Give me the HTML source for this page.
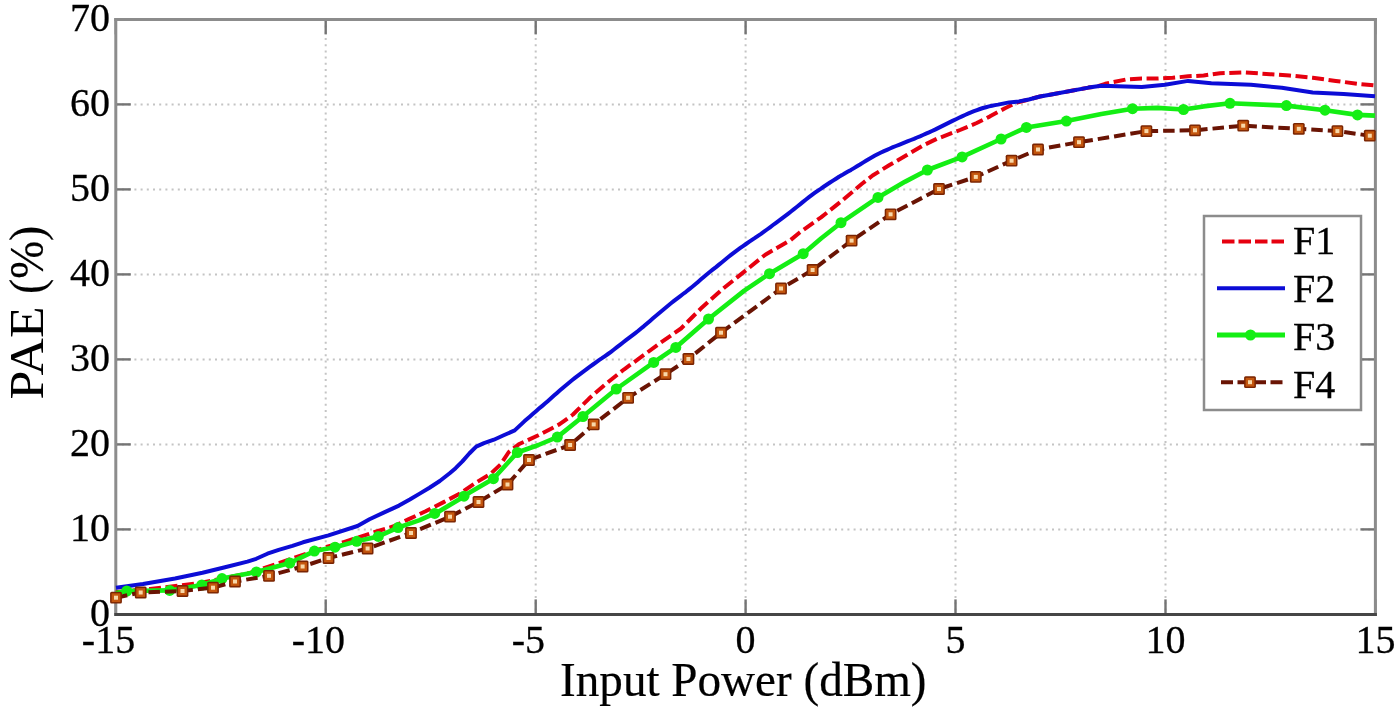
<!DOCTYPE html>
<html><head><meta charset="utf-8"><style>
html,body{margin:0;padding:0;background:#fff;width:1400px;height:712px;overflow:hidden}
svg{display:block;filter:blur(0.35px)}
text{font-family:"Liberation Serif",serif;fill:#000;stroke:#000;stroke-width:0.3px}
</style></head><body>
<svg width="1400" height="712" viewBox="0 0 1400 712">
<rect width="1400" height="712" fill="#fff"/>

<g stroke="#c4c4c4" stroke-width="2" stroke-dasharray="2 4.2" fill="none"><line x1="325.7" y1="19.4" x2="325.7" y2="614.4"/><line x1="535.7" y1="19.4" x2="535.7" y2="614.4"/><line x1="745.6" y1="19.4" x2="745.6" y2="614.4"/><line x1="955.5" y1="19.4" x2="955.5" y2="614.4"/><line x1="1165.5" y1="19.4" x2="1165.5" y2="614.4"/><line x1="115.8" y1="529.4" x2="1375.4" y2="529.4"/><line x1="115.8" y1="444.4" x2="1375.4" y2="444.4"/><line x1="115.8" y1="359.4" x2="1375.4" y2="359.4"/><line x1="115.8" y1="274.4" x2="1375.4" y2="274.4"/><line x1="115.8" y1="189.4" x2="1375.4" y2="189.4"/><line x1="115.8" y1="104.4" x2="1375.4" y2="104.4"/></g>
<g stroke="#747474" stroke-width="2.4" fill="none"><line x1="115.8" y1="614.4" x2="115.8" y2="599.4"/><line x1="115.8" y1="19.4" x2="115.8" y2="34.4"/><line x1="325.7" y1="614.4" x2="325.7" y2="599.4"/><line x1="325.7" y1="19.4" x2="325.7" y2="34.4"/><line x1="535.7" y1="614.4" x2="535.7" y2="599.4"/><line x1="535.7" y1="19.4" x2="535.7" y2="34.4"/><line x1="745.6" y1="614.4" x2="745.6" y2="599.4"/><line x1="745.6" y1="19.4" x2="745.6" y2="34.4"/><line x1="955.5" y1="614.4" x2="955.5" y2="599.4"/><line x1="955.5" y1="19.4" x2="955.5" y2="34.4"/><line x1="1165.5" y1="614.4" x2="1165.5" y2="599.4"/><line x1="1165.5" y1="19.4" x2="1165.5" y2="34.4"/><line x1="1375.4" y1="614.4" x2="1375.4" y2="599.4"/><line x1="1375.4" y1="19.4" x2="1375.4" y2="34.4"/><line x1="115.8" y1="614.4" x2="130.8" y2="614.4"/><line x1="1375.4" y1="614.4" x2="1360.4" y2="614.4"/><line x1="115.8" y1="529.4" x2="130.8" y2="529.4"/><line x1="1375.4" y1="529.4" x2="1360.4" y2="529.4"/><line x1="115.8" y1="444.4" x2="130.8" y2="444.4"/><line x1="1375.4" y1="444.4" x2="1360.4" y2="444.4"/><line x1="115.8" y1="359.4" x2="130.8" y2="359.4"/><line x1="1375.4" y1="359.4" x2="1360.4" y2="359.4"/><line x1="115.8" y1="274.4" x2="130.8" y2="274.4"/><line x1="1375.4" y1="274.4" x2="1360.4" y2="274.4"/><line x1="115.8" y1="189.4" x2="130.8" y2="189.4"/><line x1="1375.4" y1="189.4" x2="1360.4" y2="189.4"/><line x1="115.8" y1="104.4" x2="130.8" y2="104.4"/><line x1="1375.4" y1="104.4" x2="1360.4" y2="104.4"/><line x1="115.8" y1="19.4" x2="130.8" y2="19.4"/><line x1="1375.4" y1="19.4" x2="1360.4" y2="19.4"/></g>
<g fill="none" stroke-width="3" stroke-linecap="square"><line x1="115.8" y1="19.4" x2="1375.4" y2="19.4" stroke="#8c8c8c"/><line x1="115.8" y1="19.4" x2="115.8" y2="614.4" stroke="#8c8c8c"/><line x1="1375.4" y1="19.4" x2="1375.4" y2="614.4" stroke="#8c8c8c"/><line x1="115.8" y1="614.4" x2="1375.4" y2="614.4" stroke="#464646"/></g>
<polyline points="116.0,592.0 150.0,589.0 200.0,583.0 250.0,573.0 306.5,553.6 327.2,546.7 343.0,542.3 361.6,536.4 376.4,531.5 393.0,526.5 408.8,519.1 425.6,511.3 443.2,502.4 460.0,493.6 475.7,482.8 490.6,473.8 500.4,464.6 508.8,452.0 518.7,444.3 538.4,435.2 559.3,424.4 573.0,414.5 588.8,398.8 604.5,385.0 624.2,369.3 645.8,353.6 660.0,343.2 681.0,328.5 702.0,307.4 723.2,288.5 744.3,271.6 765.3,254.7 790.6,240.0 800.0,232.2 821.0,217.4 842.1,200.6 861.7,184.0 872.6,175.5 889.5,165.0 906.4,155.3 922.8,145.6 936.7,138.9 960.0,130.0 976.7,123.0 989.6,116.6 1005.0,108.2 1012.7,104.5 1019.0,102.0 1028.8,99.5 1040.0,96.5 1050.0,94.7 1088.5,87.6 1098.0,86.2 1105.2,83.8 1126.3,79.4 1141.8,78.6 1157.2,78.6 1172.7,77.8 1188.1,76.3 1203.6,75.5 1220.0,73.2 1243.2,72.4 1266.3,73.9 1289.5,75.5 1312.7,77.8 1335.8,80.9 1359.0,84.0 1375.0,85.5" fill="none" stroke="#e6000f" stroke-width="4" stroke-dasharray="12 4.6" stroke-linejoin="round"/>
<polyline points="116.0,587.7 143.0,584.0 175.0,578.5 202.5,572.8 225.0,567.2 247.4,561.6 256.2,558.8 267.4,553.7 278.7,549.8 292.4,545.8 303.0,542.3 328.5,535.4 357.5,526.0 369.5,519.3 384.2,512.4 399.0,505.6 409.8,499.5 419.7,493.6 429.5,487.7 439.8,481.0 449.7,473.2 455.6,468.2 462.4,461.4 469.3,453.5 476.2,446.6 484.0,443.2 493.9,439.7 503.7,435.3 514.7,430.4 524.6,421.1 530.0,416.4 533.0,413.8 536.0,411.2 539.0,408.6 542.0,406.1 545.0,403.5 548.0,400.9 551.0,398.2 554.0,395.6 557.0,392.9 560.0,390.3 563.0,387.7 566.0,385.2 569.0,382.7 572.0,380.3 575.0,377.9 578.0,375.6 581.0,373.3 584.0,371.1 587.0,368.8 590.0,366.6 593.0,364.5 596.0,362.3 599.0,360.2 602.0,358.2 605.0,356.1 608.0,354.0 611.0,351.8 614.0,349.5 617.0,347.2 620.0,344.9 623.0,342.5 626.0,340.2 629.0,337.9 632.0,335.6 635.0,333.3 638.0,331.0 641.0,328.5 644.0,326.1 647.0,323.5 650.0,320.9 653.0,318.3 656.0,315.8 659.0,313.2 662.0,310.7 665.0,308.2 668.0,305.7 671.0,303.3 674.0,300.9 677.0,298.6 680.0,296.3 683.0,294.0 686.0,291.8 689.0,289.4 692.0,287.0 695.0,284.5 698.0,281.9 701.0,279.3 704.0,276.7 707.0,274.2 710.0,271.8 713.0,269.4 716.0,267.1 719.0,264.6 722.0,262.2 725.0,259.7 728.0,257.3 731.0,254.9 734.0,252.6 737.0,250.4 740.0,248.2 743.0,246.1 746.0,244.0 749.0,241.9 752.0,239.9 755.0,237.9 758.0,235.8 761.0,233.8 764.0,231.7 767.0,229.5 770.0,227.3 773.0,225.0 776.0,222.8 779.0,220.6 782.0,218.3 785.0,216.1 788.0,213.8 791.0,211.5 794.0,209.2 797.0,206.8 800.0,204.4 803.0,201.9 806.0,199.5 809.0,197.2 812.0,194.9 815.0,192.7 818.0,190.6 821.0,188.6 824.0,186.5 827.0,184.5 830.0,182.5 833.0,180.6 836.0,178.7 839.0,176.8 842.0,175.1 845.0,173.3 848.0,171.6 851.0,169.9 854.0,168.1 857.0,166.3 860.0,164.5 863.0,162.6 866.0,160.8 869.0,159.0 872.0,157.3 875.0,155.6 878.0,154.0 881.0,152.5 884.0,151.1 887.0,149.8 890.0,148.5 893.0,147.2 896.0,146.0 899.0,144.8 902.0,143.6 905.0,142.4 908.0,141.2 911.0,140.0 914.0,138.8 917.0,137.5 920.0,136.3 923.0,135.0 926.0,133.7 929.0,132.4 932.0,131.0 935.0,129.6 938.0,128.1 941.0,126.6 944.0,125.1 947.0,123.6 950.0,122.1 953.0,120.6 956.0,119.2 959.0,117.8 962.0,116.4 965.0,115.0 968.0,113.7 971.0,112.4 974.0,111.2 977.0,110.1 980.0,109.0 983.0,108.0 986.0,107.2 989.0,106.4 992.0,105.7 995.0,105.1 998.0,104.6 1009.1,102.4 1019.0,101.4 1028.8,99.5 1040.0,96.5 1050.0,94.7 1088.5,87.6 1101.4,85.7 1141.8,87.1 1165.0,84.8 1188.1,80.9 1211.3,83.2 1250.9,84.7 1281.8,87.8 1312.7,92.5 1343.6,94.0 1375.0,96.3" fill="none" stroke="#0c0cd6" stroke-width="4" stroke-linejoin="round"/>
<polyline points="116.0,593.0 126.8,591.0 169.7,590.4 201.8,585.0 222.0,578.6 256.4,572.0 289.8,563.0 314.4,551.1 335.0,547.2 356.7,541.3 378.3,536.4 398.0,527.6 419.7,520.1 439.3,511.3 459.0,499.5 469.3,492.8 493.4,478.7 508.8,461.8 517.3,452.5 538.4,445.0 557.3,437.1 582.9,416.5 616.3,389.0 653.7,362.4 675.8,347.4 708.5,319.0 744.3,290.6 769.5,273.7 803.2,253.7 821.0,238.5 841.0,222.7 878.0,197.4 905.3,181.6 927.4,170.0 962.1,156.9 1001.1,139.0 1026.4,127.4 1066.4,121.1 1101.4,114.0 1132.5,108.7 1157.2,107.9 1183.5,109.5 1203.6,106.4 1230.0,103.3 1286.4,105.6 1325.0,110.2 1357.5,114.9 1375.0,115.6" fill="none" stroke="#14ee14" stroke-width="4.6" stroke-linejoin="round"/>
<g fill="#14ee14"><circle cx="126.8" cy="591.0" r="5.5"/><circle cx="169.7" cy="590.4" r="5.5"/><circle cx="201.8" cy="585.0" r="5.5"/><circle cx="222.0" cy="578.6" r="5.5"/><circle cx="256.4" cy="572.0" r="5.5"/><circle cx="289.8" cy="563.0" r="5.5"/><circle cx="314.4" cy="551.1" r="5.5"/><circle cx="335.0" cy="547.2" r="5.5"/><circle cx="356.7" cy="541.3" r="5.5"/><circle cx="378.3" cy="536.4" r="5.5"/><circle cx="398.0" cy="527.6" r="5.5"/><circle cx="434.7" cy="513.4" r="5.5"/><circle cx="464.0" cy="496.2" r="5.5"/><circle cx="493.4" cy="478.7" r="5.5"/><circle cx="517.3" cy="452.5" r="5.5"/><circle cx="557.3" cy="437.1" r="5.5"/><circle cx="582.9" cy="416.5" r="5.5"/><circle cx="616.3" cy="389.0" r="5.5"/><circle cx="653.7" cy="362.4" r="5.5"/><circle cx="675.8" cy="347.4" r="5.5"/><circle cx="708.5" cy="319.0" r="5.5"/><circle cx="769.5" cy="273.7" r="5.5"/><circle cx="803.2" cy="253.7" r="5.5"/><circle cx="841.0" cy="222.7" r="5.5"/><circle cx="878.0" cy="197.4" r="5.5"/><circle cx="927.4" cy="170.0" r="5.5"/><circle cx="962.1" cy="156.9" r="5.5"/><circle cx="1001.1" cy="139.0" r="5.5"/><circle cx="1026.4" cy="127.4" r="5.5"/><circle cx="1066.4" cy="121.1" r="5.5"/><circle cx="1132.5" cy="108.7" r="5.5"/><circle cx="1183.5" cy="109.5" r="5.5"/><circle cx="1230.0" cy="103.3" r="5.5"/><circle cx="1286.4" cy="105.6" r="5.5"/><circle cx="1325.0" cy="110.2" r="5.5"/><circle cx="1357.5" cy="114.9" r="5.5"/></g>
<polyline points="116.0,597.7 140.7,592.5 182.5,591.0 213.0,587.7 235.0,581.5 269.0,575.8 302.6,566.5 328.5,558.0 367.6,548.5 411.0,533.0 450.0,516.7 478.5,502.0 507.5,484.5 529.0,460.0 570.1,445.0 593.7,424.4 628.1,397.8 665.5,374.2 688.4,359.0 721.0,332.7 781.0,288.5 812.6,270.0 851.6,240.6 890.6,214.3 939.0,189.0 975.8,176.9 1011.6,160.7 1038.0,149.5 1079.0,142.2 1146.4,131.1 1195.0,130.3 1243.2,125.7 1298.8,128.8 1337.4,131.1 1369.8,135.7 1375.0,136.0" fill="none" stroke="#6a1404" stroke-width="4" stroke-dasharray="11.5 5" stroke-linejoin="round"/>
<rect x="110.1" y="591.8" width="11.8" height="11.8" rx="1.5" fill="#7a2402"/><rect x="111.6" y="593.3" width="8.8" height="8.8" fill="#c4560e"/><rect x="114.0" y="595.7" width="4" height="4" fill="#f8d8a8"/><rect x="134.8" y="586.6" width="11.8" height="11.8" rx="1.5" fill="#7a2402"/><rect x="136.3" y="588.1" width="8.8" height="8.8" fill="#c4560e"/><rect x="138.7" y="590.5" width="4" height="4" fill="#f8d8a8"/><rect x="176.6" y="585.1" width="11.8" height="11.8" rx="1.5" fill="#7a2402"/><rect x="178.1" y="586.6" width="8.8" height="8.8" fill="#c4560e"/><rect x="180.5" y="589.0" width="4" height="4" fill="#f8d8a8"/><rect x="207.1" y="581.8" width="11.8" height="11.8" rx="1.5" fill="#7a2402"/><rect x="208.6" y="583.3" width="8.8" height="8.8" fill="#c4560e"/><rect x="211.0" y="585.7" width="4" height="4" fill="#f8d8a8"/><rect x="229.1" y="575.6" width="11.8" height="11.8" rx="1.5" fill="#7a2402"/><rect x="230.6" y="577.1" width="8.8" height="8.8" fill="#c4560e"/><rect x="233.0" y="579.5" width="4" height="4" fill="#f8d8a8"/><rect x="263.1" y="569.9" width="11.8" height="11.8" rx="1.5" fill="#7a2402"/><rect x="264.6" y="571.4" width="8.8" height="8.8" fill="#c4560e"/><rect x="267.0" y="573.8" width="4" height="4" fill="#f8d8a8"/><rect x="296.7" y="560.6" width="11.8" height="11.8" rx="1.5" fill="#7a2402"/><rect x="298.2" y="562.1" width="8.8" height="8.8" fill="#c4560e"/><rect x="300.6" y="564.5" width="4" height="4" fill="#f8d8a8"/><rect x="322.6" y="552.1" width="11.8" height="11.8" rx="1.5" fill="#7a2402"/><rect x="324.1" y="553.6" width="8.8" height="8.8" fill="#c4560e"/><rect x="326.5" y="556.0" width="4" height="4" fill="#f8d8a8"/><rect x="361.7" y="542.6" width="11.8" height="11.8" rx="1.5" fill="#7a2402"/><rect x="363.2" y="544.1" width="8.8" height="8.8" fill="#c4560e"/><rect x="365.6" y="546.5" width="4" height="4" fill="#f8d8a8"/><rect x="405.1" y="527.1" width="11.8" height="11.8" rx="1.5" fill="#7a2402"/><rect x="406.6" y="528.6" width="8.8" height="8.8" fill="#c4560e"/><rect x="409.0" y="531.0" width="4" height="4" fill="#f8d8a8"/><rect x="444.1" y="510.8" width="11.8" height="11.8" rx="1.5" fill="#7a2402"/><rect x="445.6" y="512.3" width="8.8" height="8.8" fill="#c4560e"/><rect x="448.0" y="514.7" width="4" height="4" fill="#f8d8a8"/><rect x="472.6" y="496.1" width="11.8" height="11.8" rx="1.5" fill="#7a2402"/><rect x="474.1" y="497.6" width="8.8" height="8.8" fill="#c4560e"/><rect x="476.5" y="500.0" width="4" height="4" fill="#f8d8a8"/><rect x="501.6" y="478.6" width="11.8" height="11.8" rx="1.5" fill="#7a2402"/><rect x="503.1" y="480.1" width="8.8" height="8.8" fill="#c4560e"/><rect x="505.5" y="482.5" width="4" height="4" fill="#f8d8a8"/><rect x="523.1" y="454.1" width="11.8" height="11.8" rx="1.5" fill="#7a2402"/><rect x="524.6" y="455.6" width="8.8" height="8.8" fill="#c4560e"/><rect x="527.0" y="458.0" width="4" height="4" fill="#f8d8a8"/><rect x="564.2" y="439.1" width="11.8" height="11.8" rx="1.5" fill="#7a2402"/><rect x="565.7" y="440.6" width="8.8" height="8.8" fill="#c4560e"/><rect x="568.1" y="443.0" width="4" height="4" fill="#f8d8a8"/><rect x="587.8" y="418.5" width="11.8" height="11.8" rx="1.5" fill="#7a2402"/><rect x="589.3" y="420.0" width="8.8" height="8.8" fill="#c4560e"/><rect x="591.7" y="422.4" width="4" height="4" fill="#f8d8a8"/><rect x="622.2" y="391.9" width="11.8" height="11.8" rx="1.5" fill="#7a2402"/><rect x="623.7" y="393.4" width="8.8" height="8.8" fill="#c4560e"/><rect x="626.1" y="395.8" width="4" height="4" fill="#f8d8a8"/><rect x="659.6" y="368.3" width="11.8" height="11.8" rx="1.5" fill="#7a2402"/><rect x="661.1" y="369.8" width="8.8" height="8.8" fill="#c4560e"/><rect x="663.5" y="372.2" width="4" height="4" fill="#f8d8a8"/><rect x="682.5" y="353.1" width="11.8" height="11.8" rx="1.5" fill="#7a2402"/><rect x="684.0" y="354.6" width="8.8" height="8.8" fill="#c4560e"/><rect x="686.4" y="357.0" width="4" height="4" fill="#f8d8a8"/><rect x="715.1" y="326.8" width="11.8" height="11.8" rx="1.5" fill="#7a2402"/><rect x="716.6" y="328.3" width="8.8" height="8.8" fill="#c4560e"/><rect x="719.0" y="330.7" width="4" height="4" fill="#f8d8a8"/><rect x="775.1" y="282.6" width="11.8" height="11.8" rx="1.5" fill="#7a2402"/><rect x="776.6" y="284.1" width="8.8" height="8.8" fill="#c4560e"/><rect x="779.0" y="286.5" width="4" height="4" fill="#f8d8a8"/><rect x="806.7" y="264.1" width="11.8" height="11.8" rx="1.5" fill="#7a2402"/><rect x="808.2" y="265.6" width="8.8" height="8.8" fill="#c4560e"/><rect x="810.6" y="268.0" width="4" height="4" fill="#f8d8a8"/><rect x="845.7" y="234.7" width="11.8" height="11.8" rx="1.5" fill="#7a2402"/><rect x="847.2" y="236.2" width="8.8" height="8.8" fill="#c4560e"/><rect x="849.6" y="238.6" width="4" height="4" fill="#f8d8a8"/><rect x="884.7" y="208.4" width="11.8" height="11.8" rx="1.5" fill="#7a2402"/><rect x="886.2" y="209.9" width="8.8" height="8.8" fill="#c4560e"/><rect x="888.6" y="212.3" width="4" height="4" fill="#f8d8a8"/><rect x="933.1" y="183.1" width="11.8" height="11.8" rx="1.5" fill="#7a2402"/><rect x="934.6" y="184.6" width="8.8" height="8.8" fill="#c4560e"/><rect x="937.0" y="187.0" width="4" height="4" fill="#f8d8a8"/><rect x="969.9" y="171.0" width="11.8" height="11.8" rx="1.5" fill="#7a2402"/><rect x="971.4" y="172.5" width="8.8" height="8.8" fill="#c4560e"/><rect x="973.8" y="174.9" width="4" height="4" fill="#f8d8a8"/><rect x="1005.7" y="154.8" width="11.8" height="11.8" rx="1.5" fill="#7a2402"/><rect x="1007.2" y="156.3" width="8.8" height="8.8" fill="#c4560e"/><rect x="1009.6" y="158.7" width="4" height="4" fill="#f8d8a8"/><rect x="1032.1" y="143.6" width="11.8" height="11.8" rx="1.5" fill="#7a2402"/><rect x="1033.6" y="145.1" width="8.8" height="8.8" fill="#c4560e"/><rect x="1036.0" y="147.5" width="4" height="4" fill="#f8d8a8"/><rect x="1073.1" y="136.3" width="11.8" height="11.8" rx="1.5" fill="#7a2402"/><rect x="1074.6" y="137.8" width="8.8" height="8.8" fill="#c4560e"/><rect x="1077.0" y="140.2" width="4" height="4" fill="#f8d8a8"/><rect x="1140.5" y="125.2" width="11.8" height="11.8" rx="1.5" fill="#7a2402"/><rect x="1142.0" y="126.7" width="8.8" height="8.8" fill="#c4560e"/><rect x="1144.4" y="129.1" width="4" height="4" fill="#f8d8a8"/><rect x="1189.1" y="124.4" width="11.8" height="11.8" rx="1.5" fill="#7a2402"/><rect x="1190.6" y="125.9" width="8.8" height="8.8" fill="#c4560e"/><rect x="1193.0" y="128.3" width="4" height="4" fill="#f8d8a8"/><rect x="1237.3" y="119.8" width="11.8" height="11.8" rx="1.5" fill="#7a2402"/><rect x="1238.8" y="121.3" width="8.8" height="8.8" fill="#c4560e"/><rect x="1241.2" y="123.7" width="4" height="4" fill="#f8d8a8"/><rect x="1292.9" y="122.9" width="11.8" height="11.8" rx="1.5" fill="#7a2402"/><rect x="1294.4" y="124.4" width="8.8" height="8.8" fill="#c4560e"/><rect x="1296.8" y="126.8" width="4" height="4" fill="#f8d8a8"/><rect x="1331.5" y="125.2" width="11.8" height="11.8" rx="1.5" fill="#7a2402"/><rect x="1333.0" y="126.7" width="8.8" height="8.8" fill="#c4560e"/><rect x="1335.4" y="129.1" width="4" height="4" fill="#f8d8a8"/><rect x="1363.9" y="129.8" width="11.8" height="11.8" rx="1.5" fill="#7a2402"/><rect x="1365.4" y="131.3" width="8.8" height="8.8" fill="#c4560e"/><rect x="1367.8" y="133.7" width="4" height="4" fill="#f8d8a8"/>
<text x="110" y="626.0" text-anchor="end" font-size="40">0</text><text x="110" y="541.0" text-anchor="end" font-size="40">10</text><text x="110" y="456.0" text-anchor="end" font-size="40">20</text><text x="110" y="371.0" text-anchor="end" font-size="40">30</text><text x="110" y="286.0" text-anchor="end" font-size="40">40</text><text x="110" y="201.0" text-anchor="end" font-size="40">50</text><text x="110" y="116.0" text-anchor="end" font-size="40">60</text><text x="110" y="31.0" text-anchor="end" font-size="40">70</text><text x="108.5" y="652.5" text-anchor="middle" font-size="40">-15</text><text x="318.4" y="652.5" text-anchor="middle" font-size="40">-10</text><text x="528.4" y="652.5" text-anchor="middle" font-size="40">-5</text><text x="745.6" y="652.5" text-anchor="middle" font-size="40">0</text><text x="955.5" y="652.5" text-anchor="middle" font-size="40">5</text><text x="1165.5" y="652.5" text-anchor="middle" font-size="40">10</text><text x="1375.4" y="652.5" text-anchor="middle" font-size="40">15</text>
<text transform="translate(743.3,696) scale(0.982,1)" text-anchor="middle" font-size="48" style="stroke-width:0.2px">Input Power (dBm)</text>
<text transform="translate(43,399.5) rotate(-90) scale(1.08,1)" text-anchor="start" font-size="48" style="stroke-width:0">PAE</text>
<text transform="translate(43,225.8) rotate(-90) scale(0.948,1)" text-anchor="end" font-size="48" style="stroke-width:0.2px">(%)</text>
<rect x="1204" y="216" width="157" height="194" fill="#fff" stroke="#8c8c8c" stroke-width="2.5"/>
<line x1="1222" y1="241.4" x2="1284" y2="241.4" stroke="#e6000f" stroke-width="4" stroke-dasharray="12.5 4"/>
<line x1="1217" y1="288.2" x2="1285" y2="288.2" stroke="#0c0cd6" stroke-width="4"/>
<line x1="1217" y1="335" x2="1285" y2="335" stroke="#14ee14" stroke-width="5"/><circle cx="1250.5" cy="335" r="5.5" fill="#14ee14"/>
<line x1="1221" y1="382.2" x2="1283.5" y2="382.2" stroke="#6a1404" stroke-width="4" stroke-dasharray="12 4.5"/><rect x="1244.1" y="376.3" width="11.8" height="11.8" rx="1.5" fill="#7a2402"/><rect x="1245.6" y="377.8" width="8.8" height="8.8" fill="#c4560e"/><rect x="1248.0" y="380.2" width="4" height="4" fill="#f8d8a8"/>
<text x="1293" y="253.6" font-size="40">F1</text>
<text x="1293" y="301.6" font-size="40">F2</text>
<text x="1293" y="349.6" font-size="40">F3</text>
<text x="1293" y="397.6" font-size="40">F4</text>
</svg></body></html>
